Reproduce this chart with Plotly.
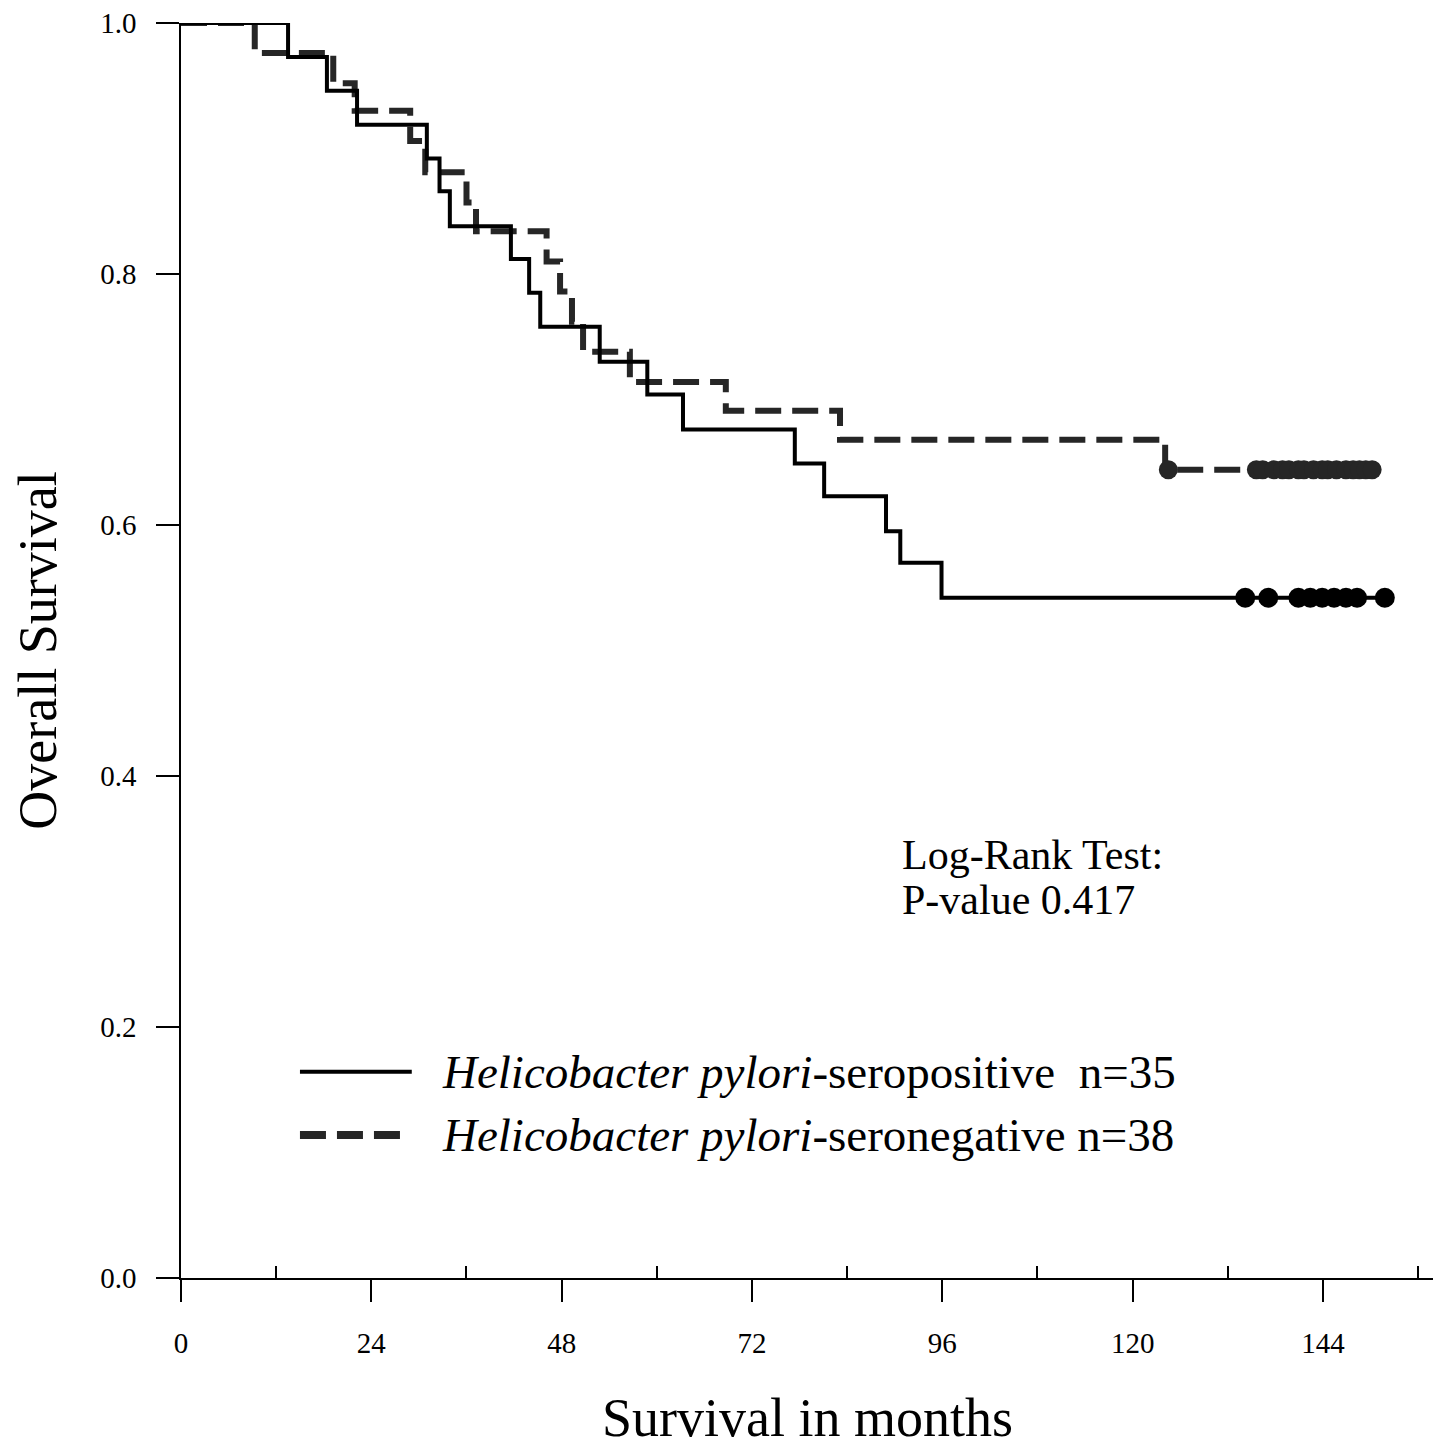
import plotly.graph_objects as go

# ---- data ----
pos_times = [0, 13.5, 18.4, 22.2, 31.0, 32.6, 33.9, 41.6, 43.9, 45.3, 52.8, 58.8,
             63.3, 77.4, 81.1, 88.9, 90.7, 95.9, 151.8]
pos_surv = [1.0, 0.973, 0.946, 0.919, 0.892, 0.866, 0.838, 0.812, 0.785, 0.758,
            0.730, 0.704, 0.676, 0.649, 0.623, 0.595, 0.570, 0.542, 0.542]
pos_cens_t = [134.2, 137.1, 140.9, 142.4, 143.9, 145.4, 146.9, 148.3, 151.8]
pos_cens_s = [0.542] * len(pos_cens_t)

neg_times = [0, 9.3, 19.2, 21.9, 28.9, 30.8, 36.0, 37.2, 46.1, 47.8, 49.3, 50.7,
             56.6, 68.7, 83.1, 124.1, 150.2]
neg_surv = [1.0, 0.976, 0.952, 0.930, 0.906, 0.881, 0.857, 0.834, 0.810, 0.786,
            0.762, 0.738, 0.714, 0.691, 0.668, 0.644, 0.644]
neg_cens_t = [124.5, 135.6, 136.4, 137.8, 138.9, 139.7, 140.9, 141.6, 142.8, 143.9,
              144.6, 145.7, 146.9, 147.8, 148.6, 149.4, 150.2]
neg_cens_s = [0.644] * len(neg_cens_t)

x_ticks = [0, 24, 48, 72, 96, 120, 144]
x_minor_ticks = [12, 36, 60, 84, 108, 132, 156]
y_ticks = [0.0, 0.2, 0.4, 0.6, 0.8, 1.0]
y_ticklabels = ["0.0", "0.2", "0.4", "0.6", "0.8", "1.0"]

legend_labels = ["<i>Helicobacter pylori</i>-seropositive  n=35",
                 "<i>Helicobacter pylori</i>-seronegative n=38"]

FONT = "Liberation Serif"
SOLID = "#000000"
DASHC = "#262626"

fig = go.Figure()

fig.add_trace(go.Scatter(x=neg_times, y=neg_surv, mode="lines", line_shape="hv",
                         line=dict(color=DASHC, width=6, dash="26px,11px"),
                         showlegend=False, hoverinfo="skip", cliponaxis=False))
fig.add_trace(go.Scatter(x=neg_cens_t, y=neg_cens_s, mode="markers",
                         marker=dict(color=DASHC, size=19, line=dict(width=0)),
                         showlegend=False, hoverinfo="skip", cliponaxis=False))
fig.add_trace(go.Scatter(x=pos_times, y=pos_surv, mode="lines", line_shape="hv",
                         line=dict(color=SOLID, width=4),
                         showlegend=False, hoverinfo="skip", cliponaxis=False))
fig.add_trace(go.Scatter(x=pos_cens_t, y=pos_cens_s, mode="markers",
                         marker=dict(color=SOLID, size=20, line=dict(width=0)),
                         showlegend=False, hoverinfo="skip", cliponaxis=False))

# manual legend
fig.add_shape(type="line", xref="x", yref="y", x0=15.0, x1=29.1, y0=0.1644, y1=0.1644,
              line=dict(color=SOLID, width=4))
fig.add_shape(type="line", xref="x", yref="y", x0=15.0, x1=28.2, y0=0.114, y1=0.114,
              line=dict(color=DASHC, width=8, dash="26px,11px"))
fig.add_annotation(x=32.7, y=0.1644, xref="x", yref="y", text=legend_labels[0],
                   showarrow=False, xanchor="left", yanchor="middle",
                   font=dict(family=FONT, size=47, color="#000"))
fig.add_annotation(x=32.7, y=0.114, xref="x", yref="y", text=legend_labels[1],
                   showarrow=False, xanchor="left", yanchor="middle",
                   font=dict(family=FONT, size=47, color="#000"))

fig.add_annotation(x=90.7, y=0.337, xref="x", yref="y", text="Log-Rank Test:",
                   showarrow=False, xanchor="left", yanchor="middle",
                   font=dict(family=FONT, size=42, color="#000"))
fig.add_annotation(x=90.7, y=0.3015, xref="x", yref="y", text="P-value 0.417",
                   showarrow=False, xanchor="left", yanchor="middle",
                   font=dict(family=FONT, size=42, color="#000"))

fig.update_layout(
    width=1433, height=1442,
    margin=dict(l=173, r=7, t=15, b=172),
    paper_bgcolor="white", plot_bgcolor="white",
    font=dict(family=FONT, color="#000"),
    showlegend=False,
)
fig.update_xaxes(
    range=[0, 158], tickmode="array", tickvals=x_ticks, automargin=False,
    ticks="outside", ticklen=22, tickwidth=1.5, tickcolor="#000",
    showline=True, linecolor="#000", linewidth=2,
    showgrid=False, zeroline=False,
    tickfont=dict(family=FONT, size=29, color="#000"),
    ticklabelstandoff=16, ticklabeloverflow="allow",
    minor=dict(tickmode="array", tickvals=x_minor_ticks,
               ticks="inside", ticklen=12, tickwidth=1.5, tickcolor="#000", showgrid=False),
    title=dict(text="Survival in months", font=dict(family=FONT, size=54, color="#000"),
               standoff=40),
)
fig.update_yaxes(
    range=[0, 1], tickmode="array", tickvals=y_ticks, ticktext=y_ticklabels, automargin=False,
    ticks="outside", ticklen=23, tickwidth=1.5, tickcolor="#000",
    showline=True, linecolor="#000", linewidth=1.5,
    showgrid=False, zeroline=False,
    tickfont=dict(family=FONT, size=29, color="#000"),
    ticklabelstandoff=14, ticklabeloverflow="allow",
    title=dict(text="Overall Survival", font=dict(family=FONT, size=54, color="#000"),
               standoff=50),
)

fig.write_html("out.html")
